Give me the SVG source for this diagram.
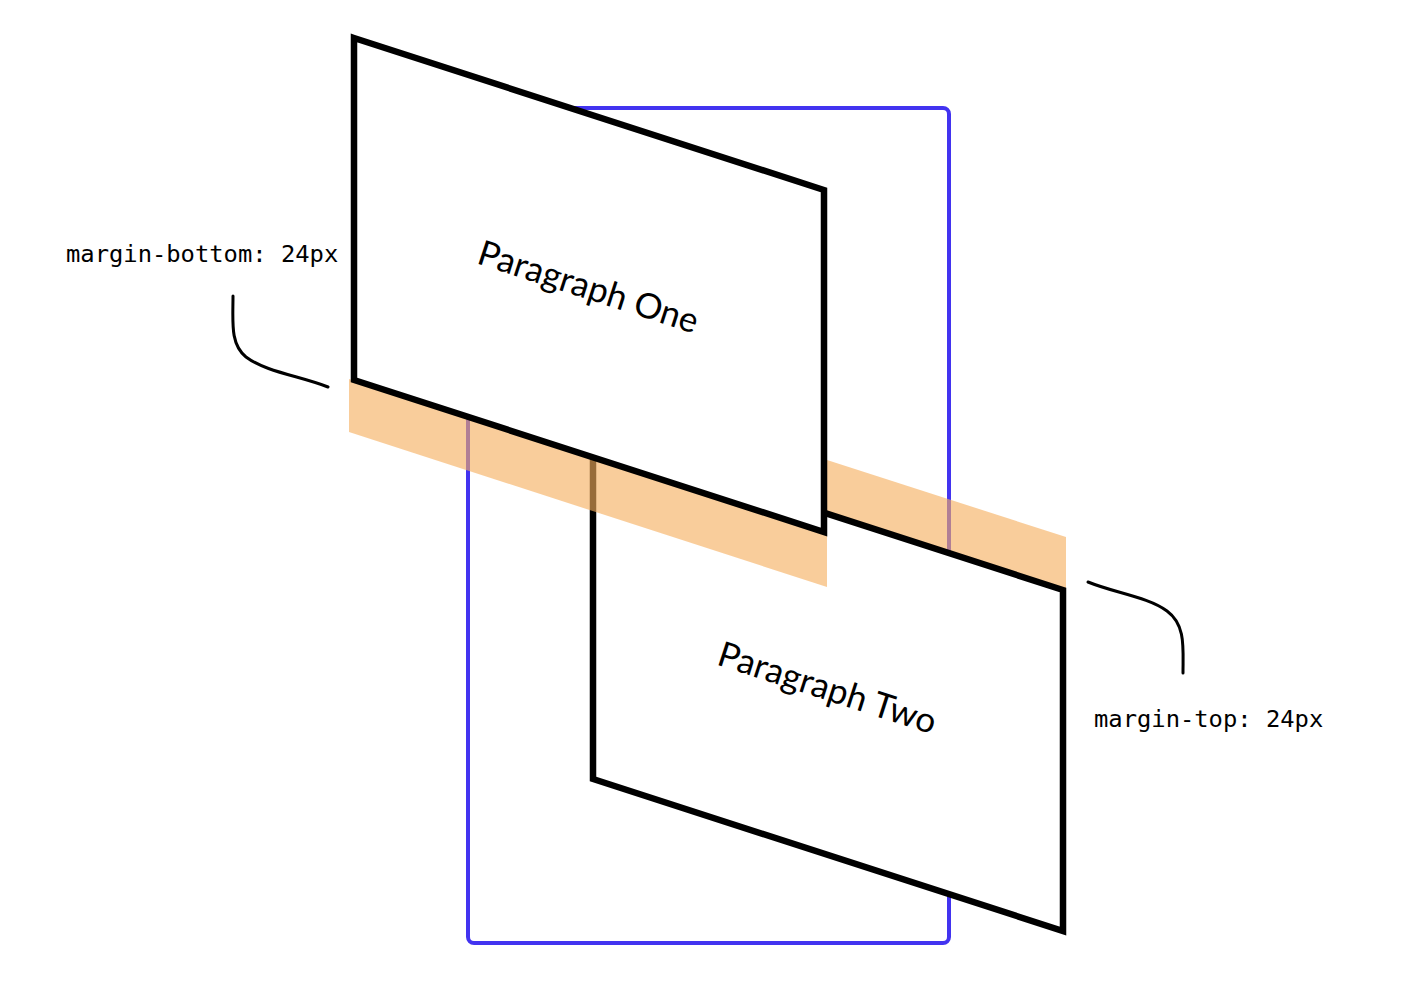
<svg xmlns="http://www.w3.org/2000/svg" width="1408" height="998" viewBox="0 0 1408 998">
  <style>
    .box { fill: #ffffff; stroke: #000000; stroke-width: 6.5; stroke-linejoin: miter; }
    .band { fill: #F5AE5E; fill-opacity: 0.62; }
    .container { fill: none; stroke: #4233F0; stroke-width: 4; }
    .title { font-family: Lato, "Noto Sans", sans-serif; font-size: 35px; fill: #000000; text-anchor: middle; dominant-baseline: central; }
    .label { font-family: "DejaVu Sans Mono", "Liberation Mono", monospace; font-size: 23.8px; fill: #000000; }
    .leader { fill: none; stroke: #000000; stroke-width: 3; stroke-linecap: round; }
  </style>
  <rect width="1408" height="998" fill="#ffffff"/>

  <g id="container">
    <rect class="container" x="468" y="108" width="481" height="835" rx="6"/>
  </g>

  <g id="margin-top-band">
    <polygon class="band" points="827,460 1066,537 1066,590 827,512"/>
  </g>

  <g id="paragraph-two">
    <polygon class="box" points="593,438 1063,590 1063,931 593,779"/>
    <text class="title" x="828" y="686" transform="rotate(17.92 828 686)">Paragraph Two</text>
  </g>

  <g id="margin-bottom-band">
    <polygon class="band" points="349,379 827,534 827,587 349,432"/>
  </g>

  <g id="paragraph-one">
    <polygon class="box" points="354,38 824,190 824,532 354,380"/>
    <text class="title" x="589" y="285" transform="rotate(17.92 589 285)">Paragraph One</text>
  </g>

  <g id="connectors">
    <path class="leader" d="M233,296 C233,322 230,344 246,357 C266,372 300,376 328,387"/>
    <path class="leader" d="M1088,582 C1115,593 1148,597 1167,611 C1186,625 1183,648 1183,673"/>
  </g>

  <g id="label-margin-bottom">
    <text class="label" x="66" y="262">margin-bottom: 24px</text>
  </g>
  <g id="label-margin-top">
    <text class="label" x="1094" y="727">margin-top: 24px</text>
  </g>
</svg>
